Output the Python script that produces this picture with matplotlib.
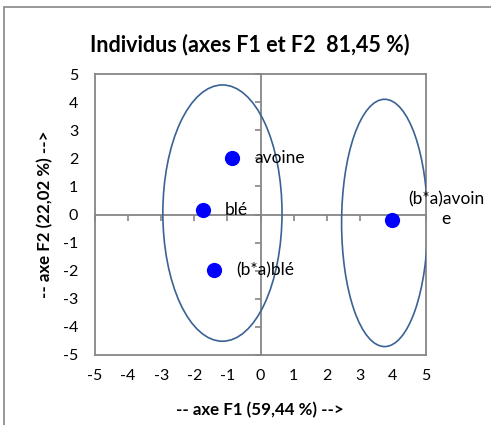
import numpy as np
import matplotlib
matplotlib.use("Agg")
import matplotlib.pyplot as plt
from matplotlib.patches import Ellipse, Rectangle

plt.rcParams['font.family'] = ['Lato', 'DejaVu Sans']
plt.rcParams['axes.unicode_minus'] = False

# individus sur le plan factoriel F1 x F2
noms = ["avoine", "blé", "(b*a)blé", "(b*a)avoin\ne"]
f1 = [-0.86, -1.74, -1.40, 3.97]
f2 = [2.01, 0.16, -1.98, -0.20]

# groupes entourés (centre x, centre y, largeur, hauteur)
groupes_cx = [-1.15, 3.75]
groupes_cy = [0.05, -0.30]
groupes_w = [3.60, 2.60]
groupes_h = [9.12, 8.80]

graduations = list(range(-5, 6))

gris = "#868686"
bleu_ell = "#3A6294"

fig = plt.figure(figsize=(4.91, 4.25), dpi=100)
fig.patches.append(Rectangle((4 / 491, -0.05), 1.2, 1 - 7 / 425 + 0.05,
                             transform=fig.transFigure, fill=False,
                             edgecolor=gris, linewidth=1.2))

pos = [95 / 491, 1 - 355 / 425, 331 / 491, 281 / 425]

# cadre + étiquettes des graduations
ax = fig.add_axes(pos)
ax.set_xlim(-5, 5)
ax.set_ylim(-5, 5)
ax.set_xticks(graduations)
ax.set_yticks(graduations)
ax.tick_params(axis="x", length=0, pad=10, labelsize=11.5)
ax.tick_params(axis="y", length=0, pad=12, labelsize=11.5)
for s in ax.spines.values():
    s.set_color(gris)
    s.set_linewidth(1.3)

# axes passant par l'origine
ax0 = fig.add_axes(pos, sharex=ax, sharey=ax)
ax0.patch.set_visible(False)
ax0.spines['top'].set_visible(False)
ax0.spines['right'].set_visible(False)
ax0.spines['left'].set_position(('data', 0))
ax0.spines['bottom'].set_position(('data', 0))
for s in ("left", "bottom"):
    ax0.spines[s].set_color(gris)
    ax0.spines[s].set_linewidth(1.3)
ax0.tick_params(direction="out", length=4, width=1.2, color=gris,
                labelleft=False, labelbottom=False)

for cx, cy, w, h in zip(groupes_cx, groupes_cy, groupes_w, groupes_h):
    ax0.add_patch(Ellipse((cx, cy), w, h, fill=False, edgecolor=bleu_ell,
                          linewidth=1.2, zorder=3))

ax0.scatter(f1, f2, s=120, color="#0000FF", zorder=4, linewidths=0)
for x, y, nom in zip(f1, f2, noms):
    if "\n" in nom:
        ax0.annotate(nom, (x, y), xytext=(39, 8), textcoords="offset points",
                     ha="center", va="center", fontsize=12.5, linespacing=1.25,
                     zorder=5)
    else:
        ax0.annotate(nom, (x, y), xytext=(16, 0), textcoords="offset points",
                     ha="left", va="center", fontsize=12.5, zorder=5)

fig.text(249.5 / 491, 1 - 45 / 425, "Individus (axes F1 et F2  81,45 %)",
         ha="center", va="center", fontsize=15.5, fontweight="bold")
fig.text(260 / 491, 1 - 410 / 425, "-- axe F1 (59,44 %) -->",
         ha="center", va="center", fontsize=12.2, fontweight="bold")
fig.text(45 / 491, 1 - 214 / 425, "-- axe F2 (22,02 %) -->",
         ha="center", va="center", rotation=90, fontsize=12.2, fontweight="bold")

fig.savefig("out.png", dpi=100)
